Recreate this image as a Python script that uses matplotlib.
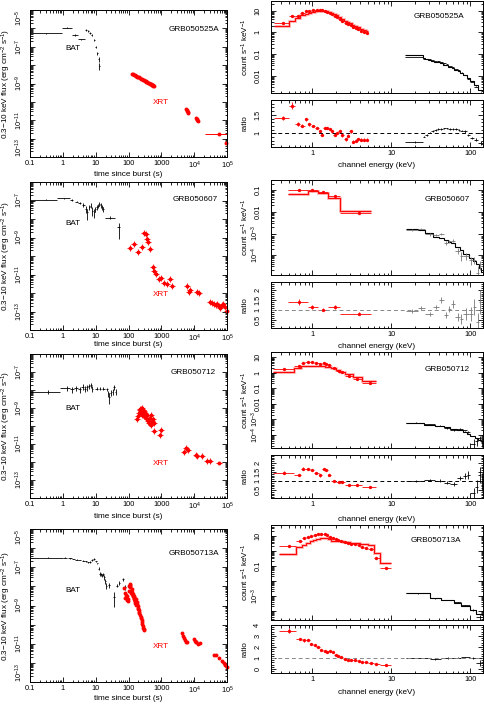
import numpy as np
import matplotlib
matplotlib.use('Agg')
import matplotlib.pyplot as plt
from matplotlib.ticker import FixedLocator, FuncFormatter, LogLocator, MultipleLocator, NullFormatter

plt.rcParams['font.family'] = ['Liberation Sans', 'DejaVu Sans']
plt.rcParams['mathtext.fontset'] = 'custom'
plt.rcParams['mathtext.rm'] = 'Liberation Sans'
plt.rcParams['mathtext.it'] = 'Liberation Sans:italic'
plt.rcParams['mathtext.bf'] = 'Liberation Sans:bold'
plt.rcParams['axes.linewidth'] = 0.7

# ---------------- DATA ----------------
grb_names = ['GRB050525A', 'GRB050607', 'GRB050712', 'GRB050713A']

# ---- light curves: BAT bins (t, lo, hi, flux, rel. err) ----
r1_bat_t = [0.3, 1.3, 2.4, 3.6, 5.1, 6.0, 6.7, 7.6, 9.0, 10.1, 11.3, 12.2, 13.0]
r1_bat_lo = [0.1, 0.93, 1.87, 2.8, 4.8, 5.7, 6.4, 7.2, 8.7, 9.8, 11.0, 11.9, 12.7]
r1_bat_hi = [0.93, 1.87, 3.0, 4.7, 5.4, 6.3, 7.0, 8.0, 9.3, 10.4, 11.6, 12.5, 13.3]
r1_bat_f = [5.4e-7, 1.1e-6, 4.3e-7, 2.5e-7, 8.1e-7, 7.2e-7, 5.8e-7, 4.3e-7, 2.3e-7, 1.0e-7, 4.3e-8, 2.1e-8, 9e-9]
r1_bat_rel = [0.05, 0.05, 0.1, 0.1, 0.1, 0.1, 0.1, 0.1, 0.15, 0.15, 0.2, 0.3, 0.4]
r1_xrt_t = [126, 135, 145, 155, 165, 175, 185, 198, 210, 225, 240, 255, 270, 290, 310, 330, 350, 375, 400, 425,
            450, 470, 490, 505, 520, 535, 550, 565, 580, 5800, 6000, 6200, 6400, 6600, 11500, 12000, 12500, 13000, 95000]
r1_xrt_f = [3.5e-9, 3.2e-9, 3.0e-9, 2.8e-9, 2.7e-9, 2.55e-9, 2.4e-9, 2.25e-9, 2.15e-9, 2.0e-9, 1.85e-9, 1.75e-9,
            1.6e-9, 1.5e-9, 1.4e-9, 1.3e-9, 1.22e-9, 1.15e-9, 1.08e-9, 1.02e-9, 0.97e-9, 0.93e-9, 0.9e-9, 0.86e-9,
            0.84e-9, 0.8e-9, 0.78e-9, 0.75e-9, 0.72e-9, 4.0e-11, 3.5e-11, 3.1e-11, 2.8e-11, 2.5e-11, 1.3e-11,
            1.15e-11, 1.05e-11, 9.5e-12, 5.7e-13]
r1_wide_t, r1_wide_lo, r1_wide_hi, r1_wide_f = [56000], [22000], [1e5], [1.9e-12]

r2_bat_t = [0.3, 1.1, 1.9, 2.65, 3.3, 4.2, 5.1, 5.6, 6.4, 7.1, 7.8, 9.0, 9.8, 10.8, 11.9, 13.0, 14.3, 15.8, 17.3, 28, 50]
r2_bat_lo = [0.1, 0.65, 1.7, 2.4, 3.0, 3.8, 4.8, 5.4, 6.1, 6.8, 7.5, 8.6, 9.4, 10.3, 11.4, 12.5, 13.7, 15.1, 16.6, 19.5, 44]
r2_bat_hi = [0.65, 1.7, 2.1, 2.9, 3.6, 4.6, 5.4, 5.9, 6.7, 7.4, 8.2, 9.4, 10.3, 11.3, 12.5, 13.6, 15.0, 16.6, 18.1, 39, 57]
r2_bat_f = [1.13e-7, 1.3e-7, 1.1e-7, 8.8e-8, 7.5e-8, 5.8e-8, 3.5e-8, 2.3e-8, 4.3e-8, 5.3e-8, 2.8e-8, 2.3e-8,
            3.5e-8, 4.3e-8, 5.3e-8, 6.6e-8, 5.8e-8, 4.3e-8, 3.5e-8, 1.2e-8, 3.5e-9]
r2_bat_rel = [0.05, 0.08, 0.1, 0.1, 0.15, 0.2, 0.4, 0.6, 0.3, 0.3, 0.5, 0.5, 0.3, 0.3, 0.25, 0.25, 0.3, 0.3, 0.35, 0.2, 0.75]
r2_xrt_t = [110, 150, 190, 260, 300, 330, 360, 400, 440, 555, 610, 670, 820, 960, 1220, 1470, 1800, 2050, 6000, 7000,
            7700, 12300, 13800, 29500, 35000, 41000, 46000, 50000, 56000, 61000, 68000, 78000, 88000, 99000]
r2_xrt_f = [2.8e-10, 4.3e-10, 1.7e-10, 3.1e-10, 1.7e-9, 1.5e-9, 8.1e-10, 5.8e-10, 2.3e-10, 2.5e-11, 1.5e-11, 1.1e-11,
            6e-12, 6.6e-12, 3.5e-12, 3.2e-12, 5.4e-12, 2.5e-12, 2.5e-12, 1.2e-12, 1.4e-12, 1.1e-12, 9.5e-13, 3.1e-13,
            2.8e-13, 2.6e-13, 2.3e-13, 2.6e-13, 2e-13, 1.5e-13, 2.3e-13, 2.5e-13, 1.7e-13, 1.1e-13]
r2_wide_t, r2_wide_lo, r2_wide_hi, r2_wide_f = [], [], [], []

r3_bat_t = [0.36, 1.3, 1.87, 2.5, 3.3, 4.0, 4.7, 5.6, 6.4, 7.1, 8.0, 10.8, 13.6, 17.3, 21.9, 24.4, 26, 28.8, 33, 36, 41]
r3_bat_lo = [0.1, 0.82, 1.6, 2.2, 2.9, 3.7, 4.4, 5.2, 6.0, 6.8, 7.6, 9.5, 12.5, 15.5, 20.5, 23.5, 25.2, 27.5, 31.5, 34.5, 39]
r3_bat_hi = [0.82, 1.6, 2.2, 2.9, 3.7, 4.4, 5.1, 6.0, 6.8, 7.5, 8.5, 12.0, 15.0, 19.0, 23.5, 25.2, 27, 30, 34.5, 38, 43]
r3_bat_f = [8.1e-9, 1.23e-8, 1.1e-8, 1.3e-8, 1.1e-8, 1.5e-8, 1.2e-8, 1.4e-8, 1.6e-8, 1.9e-8, 1.2e-8, 1.2e-8,
            1.2e-8, 1.2e-8, 1.1e-8, 6.6e-9, 4.3e-9, 7.2e-9, 8.1e-9, 1.4e-8, 8.1e-9]
r3_bat_rel = [0.3, 0.3, 0.35, 0.35, 0.35, 0.35, 0.35, 0.35, 0.3, 0.3, 0.35, 0.15, 0.15, 0.15, 0.15, 0.4, 0.6, 0.35, 0.35, 0.3, 0.35]
r3_xrt_t = [180, 200, 215, 225, 228, 235, 238, 245, 250, 257, 262, 270, 276, 283, 290, 296, 310, 330, 345, 360,
            377, 400, 415, 445, 470, 490, 515, 550, 580, 605, 880, 990, 5000, 5600, 6300, 11700, 12200, 17500, 25000, 30000]
r3_xrt_f = [2.5e-10, 3.5e-10, 5.3e-10, 7.4e-10, 9e-10, 5.3e-10, 6.5e-10, 8.8e-10, 9.5e-10, 4.3e-10, 6e-10, 7.4e-10,
            8e-10, 5.8e-10, 6.8e-10, 3.5e-10, 5.3e-10, 2.8e-10, 3.5e-10, 2.3e-10, 4.3e-10, 1.9e-10, 1.5e-10, 2.8e-10,
            4.3e-10, 1.2e-10, 1.9e-10, 2.3e-10, 1.4e-10, 5.3e-11, 3.1e-11, 5.8e-11, 3.8e-12, 5.8e-12, 4.9e-12,
            2.5e-12, 2.1e-12, 2.1e-12, 1.1e-12, 1.1e-12]
r3_wide_t, r3_wide_lo, r3_wide_hi, r3_wide_f = [56000], [45000], [70000], [9.2e-13]

r4_bat_t = [0.35, 1.17, 1.66, 2.1, 2.65, 3.3, 4.2, 5.1, 5.8, 6.7, 7.8, 9.0, 10.3, 11.3, 12.4, 13.6, 14.6, 15.8,
            16.9, 18.0, 19.8, 21.1, 26, 36, 44, 53, 67, 78]
r4_bat_lo = [0.1, 1.04, 1.45, 1.9, 2.4, 3.0, 3.8, 4.7, 5.5, 6.3, 7.3, 8.5, 9.7, 10.8, 11.9, 13.0, 14.1, 15.2,
             16.3, 17.4, 19.0, 20.4, 24, 33, 41, 50, 63, 74]
r4_bat_hi = [1.04, 1.3, 1.9, 2.3, 2.9, 3.6, 4.6, 5.5, 6.2, 7.1, 8.3, 9.5, 10.9, 11.8, 12.9, 14.1, 15.1, 16.3,
             17.4, 18.6, 20.6, 21.8, 28, 39, 47, 56, 71, 82]
r4_bat_f = [3.2e-7, 3.2e-7, 3.0e-7, 2.7e-7, 2.5e-7, 2.4e-7, 2.2e-7, 2.1e-7, 1.8e-7, 1.9e-7, 2.4e-7, 2.7e-7,
            2.0e-7, 1.6e-7, 8.5e-8, 4.6e-8, 4.2e-8, 3.8e-8, 4.2e-8, 3.0e-8, 1.8e-8, 1.1e-8, 1.2e-8, 2.9e-9,
            1.1e-8, 1.5e-8, 2.4e-8, 8.8e-9]
r4_bat_rel = [0.03, 0.05, 0.05, 0.05, 0.05, 0.05, 0.05, 0.05, 0.08, 0.08, 0.08, 0.08, 0.1, 0.1, 0.15, 0.2,
              0.2, 0.2, 0.2, 0.25, 0.3, 0.3, 0.3, 0.7, 0.2, 0.2, 0.2, 0.3]
r4_xrt_t = [74, 78, 81, 84, 87, 91, 95, 98, 101, 105, 108, 110, 112, 115, 118, 121, 124, 127, 130, 133,
            136, 139, 142, 145, 148, 152, 156, 160, 163, 167, 171, 175, 180, 184, 188, 193, 197, 202, 207, 212,
            220, 233, 240, 250, 256, 263, 270, 282, 289, 296, 4400, 4700, 5000, 5300, 5700, 5900,
            9800, 10500, 11000, 11700, 12900, 15500, 39000, 47000, 56000, 70000, 82000, 90000, 99000]
r4_xrt_f = [7.8e-9, 4.7e-9, 2.5e-9, 3.5e-9, 1.9e-9, 3.1e-9, 2.2e-9, 1.7e-9, 6e-9, 1.1e-8, 1.2e-8, 1.3e-8,
            1.0e-8, 8.8e-9, 6e-9, 4.7e-9, 5e-9, 7e-9, 4e-9, 3.1e-9, 3.3e-9, 3.9e-9, 2.8e-9, 2.1e-9, 3.1e-9,
            2.5e-9, 1.8e-9, 1.4e-9, 1.7e-9, 2.1e-9, 1.3e-9, 1.1e-9, 1.2e-9, 1.5e-9, 9e-10, 7.4e-10, 6.5e-10,
            5.5e-10, 4.8e-10, 4e-10, 3.2e-10, 2.6e-10, 2.1e-10, 1.7e-10, 1.4e-10, 1.1e-10, 9e-11, 6.8e-11,
            6e-11, 5.5e-11, 3.6e-11, 2.4e-11, 2e-11, 1.6e-11, 1.3e-11, 1.2e-11, 1.8e-11, 1.4e-11, 1.2e-11,
            1.3e-11, 1e-11, 1.1e-11, 2.7e-12, 2.5e-12, 1.9e-12, 1.3e-12, 1e-12, 8e-13, 5.8e-13]
r4_wide_t, r4_wide_lo, r4_wide_hi, r4_wide_f = [], [], [], []

# ---- spectra: XRT (red) and BAT (black) ----
s1_red_edges = [0.33, 0.50, 0.60, 0.70, 0.80, 0.875, 0.96, 1.08, 1.20, 1.27, 1.37, 1.48, 1.59, 1.72, 1.85, 1.98,
                2.13, 2.31, 2.52, 2.73, 2.94, 3.17, 3.41, 3.68, 3.99, 4.35, 4.72, 5.1]
s1_red_E = [0.42, 0.55, 0.66, 0.75, 0.84, 0.91, 1.02, 1.15, 1.24, 1.31, 1.43, 1.53, 1.66, 1.79, 1.92, 2.05,
            2.22, 2.40, 2.64, 2.83, 3.06, 3.28, 3.54, 3.82, 4.17, 4.54, 4.91]
s1_red_flux = [2.7, 5.6, 6.0, 7.5, 9.2, 10.0, 10.7, 11.0, 10.9, 10.6, 9.8, 9.0, 7.9, 6.8, 5.8, 5.0, 4.1, 3.3,
               2.6, 2.5, 2.2, 1.85, 1.55, 1.38, 1.22, 1.07, 0.9]
s1_red_model = [2.0, 3.2, 4.8, 6.2, 7.3, 8.1, 9.0, 9.6, 9.9, 10.0, 9.8, 9.3, 8.6, 7.8, 7.0, 6.1, 5.2, 4.3,
                3.5, 3.0, 2.6, 2.3, 2.0, 1.7, 1.5, 1.3, 1.12]
s1_red_ratio = [1.41, 1.75, 1.25, 1.20, 1.38, 1.25, 1.20, 1.14, 1.05, 0.95, 1.14, 1.14, 1.11, 1.05, 0.95, 1.00,
                1.05, 0.95, 0.84, 0.93, 1.05, 0.77, 0.80, 0.84, 0.82, 0.82, 0.82]
s1_red_rerr = [0.06, 0.1, 0.05, 0.04, 0.04, 0.04, 0.03, 0.03, 0.03, 0.03, 0.03, 0.03, 0.03, 0.03, 0.03, 0.03,
               0.03, 0.04, 0.04, 0.04, 0.04, 0.04, 0.04, 0.04, 0.04, 0.04, 0.04]
s1_blk_edges = [15, 25, 27, 29.5, 32, 35, 38, 41, 45, 49, 53, 58, 63, 69, 75, 82, 90, 100, 112, 125, 150]
s1_blk_E = [20, 26, 28.2, 30.7, 33.5, 36.5, 39.5, 43, 47, 51, 55.5, 60.5, 66, 72, 78.5, 86, 95, 106, 118, 137]
s1_blk_model = [0.095, 0.068, 0.062, 0.056, 0.050, 0.045, 0.041, 0.037, 0.033, 0.030, 0.026, 0.023, 0.019,
                0.016, 0.013, 0.0105, 0.0078, 0.0058, 0.0038, 0.0022]
s1_blk_ratio = [0.77, 0.91, 0.95, 1.02, 1.06, 1.09, 1.11, 1.12, 1.13, 1.13, 1.12, 1.12, 1.11, 1.09, 1.07, 1.05,
                0.95, 0.88, 0.82, 0.73]
s1_blk_flux = [0.073, 0.062, 0.059, 0.057, 0.053, 0.049, 0.046, 0.041, 0.037, 0.034, 0.029, 0.026, 0.021,
               0.0175, 0.014, 0.011, 0.0074, 0.0051, 0.0031, 0.0016]
s1_blk_rerr = [0.03, 0.02, 0.02, 0.02, 0.02, 0.02, 0.02, 0.02, 0.02, 0.02, 0.02, 0.02, 0.02, 0.02, 0.02, 0.03,
               0.03, 0.03, 0.04, 0.05]

s2_red_edges = [0.49, 0.88, 1.18, 1.58, 2.22, 5.58]
s2_red_E = [0.68, 1.0, 1.36, 1.92, 3.86]
s2_red_flux = [0.10, 0.107, 0.084, 0.053, 0.0088]
s2_red_model = [0.07, 0.093, 0.075, 0.044, 0.011]
s2_red_ratio = [1.42, 1.17, 1.03, 1.17, 0.83]
s2_red_rerr = [0.15, 0.1, 0.08, 0.1, 0.07]
s2_blk_edges = [15.5, 21.5, 27, 34, 40, 46, 52, 57, 65, 74, 82, 96, 108, 118, 129, 138, 150]
s2_blk_E = [18.4, 23.9, 30.6, 37, 43, 49.7, 54.6, 60, 70, 77, 89, 103, 113, 124, 133, 143]
s2_blk_model = [1.6e-3, 1.5e-3, 1.1e-3, 7.1e-4, 6.3e-4, 4.9e-4, 4.1e-4, 3.5e-4, 2.4e-4, 1.7e-4, 1.1e-4, 7e-5,
                5.3e-5, 3.7e-5, 2.6e-5, 1.7e-5]
s2_blk_ratio = [0.95, 1.12, 0.83, 1.17, 1.5, 0.75, 1.05, 1.33, 0.67, 0.55, 0.83, 0.83, 1.17, 0.42, 1.42, 1.75]
s2_blk_flux = [1.52e-3, 1.7e-3, 9.1e-4, 8.3e-4, 9.5e-4, 3.7e-4, 4.3e-4, 4.7e-4, 1.6e-4, 9.4e-5, 9.1e-5,
               5.8e-5, 6.2e-5, 1.55e-5, 3.7e-5, 3e-5]
s2_blk_rerr = [0.1, 0.1, 0.1, 0.12, 0.15, 0.15, 0.15, 0.2, 0.2, 0.25, 0.3, 0.35, 0.4, 0.45, 0.6, 1.0]

s3_red_edges = [0.32, 0.59, 0.72, 0.82, 0.94, 1.06, 1.20, 1.33, 1.45, 1.57, 1.75, 2.0, 2.25, 2.6, 3.3, 4.2, 6.5]
s3_red_E = [0.44, 0.67, 0.77, 0.88, 1.0, 1.13, 1.27, 1.40, 1.50, 1.65, 1.87, 2.15, 2.37, 2.93, 3.65, 5.35]
s3_red_flux = [1.6, 2.8, 4.2, 4.5, 4.5, 4.1, 3.5, 4.3, 3.8, 2.9, 1.85, 1.35, 1.07, 0.62, 0.41, 0.2]
s3_red_model = [1.1, 2.1, 2.5, 2.7, 2.8, 2.8, 2.7, 2.55, 2.4, 2.2, 1.85, 1.45, 1.15, 0.8, 0.55, 0.3]
s3_red_ratio = [1.47, 1.33, 1.69, 1.65, 1.6, 1.45, 1.31, 1.69, 1.6, 1.33, 1.0, 0.93, 0.93, 0.78, 0.75, 0.65]
s3_red_rerr = [0.08, 0.07, 0.07, 0.06, 0.06, 0.06, 0.06, 0.06, 0.06, 0.06, 0.05, 0.05, 0.05, 0.04, 0.04, 0.04]
s3_blk_edges = [15.5, 26, 36, 46, 56, 68, 81, 91, 100, 115, 127, 137, 145]
s3_blk_E = [20.5, 30.7, 41, 51, 62, 75, 86, 95, 110, 121, 133, 140]
s3_blk_model = [6e-4, 4.5e-4, 3.6e-4, 3.0e-4, 2.5e-4, 2.0e-4, 1.5e-4, 1.15e-4, 8e-5, 6e-5, 4.5e-5, 3.8e-5]
s3_blk_ratio = [1.0, 1.05, 1.02, 0.91, 0.82, 1.18, 1.27, 1.33, 0.33, 0.69, 1.33, 0.96]
s3_blk_flux = [6e-4, 4.7e-4, 3.7e-4, 2.7e-4, 2.05e-4, 2.35e-4, 1.9e-4, 1.5e-4, 2.6e-5, 4.1e-5, 6e-5, 3.6e-5]
s3_blk_rerr = [0.05, 0.06, 0.07, 0.08, 0.1, 0.12, 0.15, 0.2, 0.3, 0.35, 0.45, 0.5]

s4_red_edges = [0.38, 0.63, 0.735, 0.83, 0.925, 1.02, 1.12, 1.24, 1.36, 1.48, 1.6, 1.74, 1.9, 2.05, 2.2, 2.45,
                2.7, 2.97, 3.27, 3.65, 4.07, 4.5, 5.0, 6.0, 7.1, 10.0]
s4_red_E = [0.51, 0.69, 0.78, 0.88, 0.97, 1.07, 1.18, 1.30, 1.43, 1.53, 1.66, 1.83, 1.98, 2.11, 2.33, 2.56,
            2.83, 3.11, 3.43, 3.86, 4.28, 4.72, 5.57, 6.4, 8.6]
s4_red_flux = [2.15, 4.6, 6.6, 7.7, 9.5, 11, 12, 13, 12, 11, 8.6, 6.6, 5.7, 5.2, 4.6, 3.6, 3.1, 2.8, 2.6, 2.4,
               1.85, 1.6, 1.3, 0.34, 0.067]
s4_red_model = [0.64, 1.7, 2.5, 3.1, 4.1, 5.1, 6.1, 7.0, 7.4, 7.1, 5.7, 4.7, 4.4, 4.3, 4.2, 3.9, 3.6, 3.3, 3.1,
                3.0, 2.9, 2.7, 2.5, 0.75, 0.16]
s4_red_ratio = [3.48, 2.73, 2.6, 2.67, 2.27, 2.15, 1.97, 1.76, 1.6, 1.55, 1.67, 1.55, 1.3, 1.21, 1.06, 0.94,
                0.85, 0.85, 0.85, 0.7, 0.64, 0.6, 0.52, 0.45, 0.39]
s4_red_rerr = [0.25, 0.12, 0.1, 0.1, 0.08, 0.07, 0.06, 0.06, 0.06, 0.06, 0.06, 0.06, 0.05, 0.05, 0.05, 0.05,
               0.05, 0.05, 0.05, 0.04, 0.04, 0.04, 0.04, 0.04, 0.04]
s4_blk_edges = [15.5, 30.6, 42.8, 63, 77, 98, 119, 143]
s4_blk_E = [22, 36, 52, 70, 87, 108, 131]
s4_blk_model = [1.4e-3, 7.5e-4, 5.3e-4, 3.5e-4, 2.2e-4, 1.1e-4, 6.5e-5]
s4_blk_ratio = [1.0, 0.91, 1.0, 1.03, 1.06, 1.0, 0.55]
s4_blk_flux = [1.4e-3, 6.8e-4, 5.3e-4, 3.6e-4, 2.3e-4, 1.1e-4, 3.6e-5]
s4_blk_rerr = [0.04, 0.05, 0.05, 0.06, 0.07, 0.1, 0.25]

lc_xticks = [0.1, 1, 10, 100, 1000, 1e4, 1e5]
lc_xticklabels = ['0.1', '1', '10', '100', '1000', '10$^4$', '10$^5$']
sp_xticks = [1, 10, 100]
sp_xticklabels = ['1', '10', '100']

# ---------------- LAYOUT / STYLE ----------------
W, H = 485, 704
fig = plt.figure(figsize=(W / 100, H / 100), dpi=100)
FS_T = 5.3
FS_L = 5.9


def add_ax(x0, y0, x1, y1):
    return fig.add_axes([x0 / W, 1 - y1 / H, (x1 - x0) / W, (y1 - y0) / H])


def common(ax, ypad):
    ax.tick_params(which='both', direction='in', top=True, right=True, labelsize=FS_T, width=0.6, colors='k')
    ax.tick_params(which='major', length=3.6)
    ax.tick_params(which='minor', length=1.8)
    ax.tick_params(axis='y', labelrotation=90, pad=ypad)
    ax.tick_params(axis='x', pad=2)


def vert_labels(ax, ylim, logscale):
    ticks = ax.yaxis.get_major_ticks()
    locs = ax.yaxis.get_majorticklocs()
    for tk, loc in zip(ticks, locs):
        tk.label1.set_va('center')
        if logscale:
            if abs(np.log10(loc) - np.log10(ylim[1])) < 0.05:
                tk.label1.set_va('top')
            elif abs(np.log10(loc) - np.log10(ylim[0])) < 0.05:
                tk.label1.set_va('bottom')


lc_boxes = [(30, 10, 227, 157), (30, 182, 227, 330), (30, 354, 227, 498), (30, 529, 227, 682)]
lc_ylims = [(1e-13, 1e-5), (1e-14, 1e-6), (1e-14, 1e-6), (1e-13, 1e-5)]
lc_labexp = [[-13, -11, -9, -7, -5], [-13, -11, -9, -7], [-13, -11, -9, -7], [-13, -11, -9, -7, -5]]
lc_xlab_y = [-0.116, -0.10, -0.13, -0.105]
lc_bat_pos = [(0.22, 0.74), (0.22, 0.72), (0.22, 0.62), (0.22, 0.595)]
lc_xrt_pos = [(0.665, 0.37), (0.665, 0.24), (0.665, 0.24), (0.665, 0.23)]
lc_name_pos = [(0.83, 0.87), (0.84, 0.885), (0.83, 0.87), (0.83, 0.84)]
lc_cross = [False, True, True, False]

lc_data = [
    (r1_bat_t, r1_bat_lo, r1_bat_hi, r1_bat_f, r1_bat_rel, r1_xrt_t, r1_xrt_f, r1_wide_t, r1_wide_lo, r1_wide_hi, r1_wide_f),
    (r2_bat_t, r2_bat_lo, r2_bat_hi, r2_bat_f, r2_bat_rel, r2_xrt_t, r2_xrt_f, r2_wide_t, r2_wide_lo, r2_wide_hi, r2_wide_f),
    (r3_bat_t, r3_bat_lo, r3_bat_hi, r3_bat_f, r3_bat_rel, r3_xrt_t, r3_xrt_f, r3_wide_t, r3_wide_lo, r3_wide_hi, r3_wide_f),
    (r4_bat_t, r4_bat_lo, r4_bat_hi, r4_bat_f, r4_bat_rel, r4_xrt_t, r4_xrt_f, r4_wide_t, r4_wide_lo, r4_wide_hi, r4_wide_f),
]

for i in range(4):
    bt, blo, bhi, bf, brel, xt, xf, wt, wlo, whi, wf = [np.array(a, dtype=float) for a in lc_data[i]]
    ax = add_ax(*lc_boxes[i])
    ax.set_xscale('log')
    ax.set_yscale('log')
    ax.set_xlim(0.1, 1e5)
    ax.set_ylim(*lc_ylims[i])
    ax.hlines(bf, blo, bhi, color='k', lw=0.6)
    ax.vlines(bt, bf * (1 - brel), bf * (1 + brel), color='k', lw=0.6)
    ax.plot(xt, xf, 'o', color='red', ms=2.8, mew=0, clip_on=False)
    if lc_cross[i]:
        ax.plot(xt, xf, '+', color='red', ms=4.5, mew=0.6)
    if len(wt):
        ax.hlines(wf, wlo, whi, color='red', lw=0.7)
        ax.plot(wt, wf, 'o', color='red', ms=2.8, mew=0)
    common(ax, 3.8)
    ax.set_xticks(lc_xticks)
    ax.set_xticklabels(lc_xticklabels)
    ax.xaxis.set_minor_locator(LogLocator(base=10, subs=np.arange(2, 10), numticks=100))
    ax.xaxis.set_minor_formatter(NullFormatter())
    decs = np.arange(-15, -3)
    ax.yaxis.set_major_locator(FixedLocator(10.0 ** decs))
    labexp = lc_labexp[i]
    ax.yaxis.set_major_formatter(FuncFormatter(
        lambda v, p, le=labexp: (r'10$^{%d}$' % int(round(np.log10(v)))) if int(round(np.log10(v))) in le else ''))
    ax.yaxis.set_minor_locator(LogLocator(base=10, subs=np.arange(2, 10), numticks=100))
    ax.yaxis.set_minor_formatter(NullFormatter())
    vert_labels(ax, lc_ylims[i], True)
    ax.set_xlabel('time since burst (s)', fontsize=FS_L)
    ax.xaxis.set_label_coords(0.5, lc_xlab_y[i])
    ax.xaxis.label.set_va('center')
    ax.set_ylabel('0.3\u221210 keV flux (erg cm$^{-2}$ s$^{-1}$)', fontsize=FS_L)
    ax.yaxis.set_label_coords(-0.118, 0.5)
    ax.yaxis.label.set_va('center')
    ax.text(*lc_bat_pos[i], 'BAT', transform=ax.transAxes, fontsize=FS_L, ha='center', va='center', color='k')
    ax.text(*lc_xrt_pos[i], 'XRT', transform=ax.transAxes, fontsize=FS_L, ha='center', va='center', color='red')
    ax.text(*lc_name_pos[i], grb_names[i], transform=ax.transAxes, fontsize=FS_L, ha='center', va='center')

# ---------------- spectra ----------------
sp_boxes = [(271, 1, 483, 93), (271, 180, 483, 275), (271, 352, 483, 448), (271, 525, 483, 620)]
rt_boxes = [(271, 100, 483, 147), (271, 282, 483, 328), (271, 455, 483, 498), (271, 625, 483, 673)]
sp_ylims = [(1.6e-3, 28), (1.2e-5, 0.3), (1.4e-5, 21), (2.4e-5, 51)]
sp_labexp = [[-2, -1, 0, 1], [-4, -3, -2, -1], [-4, -3, -2, -1, 0, 1], [-3, -1, 1]]
rt_ylims = [(0.63, 1.9), (0.12, 2.42), (0.05, 2.45), (-0.36, 4.0)]
rt_major = [0.5, 0.5, 0.5, 1.0]
rt_minor = [0.1, 0.1, 0.1, 0.2]
rt_xlab_y = [-0.40, -0.41, -0.51, -0.40]
sp_name_pos = [(0.79, 0.83), (0.83, 0.79), (0.83, 0.82), (0.78, 0.84)]
dash_colors = ['k', '#888888', 'k', '#888888']
blk_colors = ['k', '#777777', 'k', 'k']

sp_red = [
    (s1_red_edges, s1_red_E, s1_red_flux, s1_red_model, s1_red_ratio, s1_red_rerr),
    (s2_red_edges, s2_red_E, s2_red_flux, s2_red_model, s2_red_ratio, s2_red_rerr),
    (s3_red_edges, s3_red_E, s3_red_flux, s3_red_model, s3_red_ratio, s3_red_rerr),
    (s4_red_edges, s4_red_E, s4_red_flux, s4_red_model, s4_red_ratio, s4_red_rerr),
]
sp_blk = [
    (s1_blk_edges, s1_blk_E, s1_blk_flux, s1_blk_model, s1_blk_ratio, s1_blk_rerr),
    (s2_blk_edges, s2_blk_E, s2_blk_flux, s2_blk_model, s2_blk_ratio, s2_blk_rerr),
    (s3_blk_edges, s3_blk_E, s3_blk_flux, s3_blk_model, s3_blk_ratio, s3_blk_rerr),
    (s4_blk_edges, s4_blk_E, s4_blk_flux, s4_blk_model, s4_blk_ratio, s4_blk_rerr),
]


def sp_fmt(v, p, le):
    k = int(round(np.log10(v)))
    if k not in le:
        return ''
    if k >= -2:
        return '%g' % (10.0 ** k)
    return r'10$^{%d}$' % k


for i in range(4):
    ax = add_ax(*sp_boxes[i])
    ar = add_ax(*rt_boxes[i])
    for a in (ax, ar):
        a.set_xscale('log')
        a.set_xlim(0.3, 145)
    ax.set_yscale('log')
    ax.set_ylim(*sp_ylims[i])
    ar.set_ylim(*rt_ylims[i])

    for j, (dset, col) in enumerate(((sp_red[i], 'red'), (sp_blk[i], blk_colors[i]))):
        edges, E, flux, model, ratio, rerr = [np.array(a, dtype=float) for a in dset]
        xerr = [E - edges[:-1], edges[1:] - E]
        if j == 0:
            ax.stairs(model, edges, baseline=None, color='#ff9a9a', lw=1.8)
            ax.stairs(model, edges, baseline=None, color='red', lw=0.7)
            ax.errorbar(E, flux, xerr=xerr, yerr=flux * rerr / ratio, fmt='o', ms=2.4, mew=0,
                        color='red', elinewidth=0.6, capsize=0)
            ar.errorbar(E, ratio, xerr=xerr, yerr=rerr, fmt='o', ms=2.4, mew=0,
                        color='red', elinewidth=0.6, capsize=0)
        else:
            ax.errorbar(E, flux, xerr=xerr, yerr=flux * rerr / ratio, fmt='none',
                        ecolor=col, elinewidth=0.6, capsize=0)
            ax.stairs(model, edges, baseline=None, color='k', lw=0.8)
            ar.errorbar(E, ratio, xerr=xerr, yerr=rerr, fmt='none',
                        ecolor=col, elinewidth=0.6, capsize=0)
    ar.axhline(1.0, color=dash_colors[i], lw=0.7, ls=(0, (4, 3)))

    for a in (ax, ar):
        common(a, 7.0)
        a.xaxis.set_major_locator(FixedLocator(sp_xticks))
        a.xaxis.set_minor_locator(LogLocator(base=10, subs=np.arange(2, 10), numticks=100))
        a.xaxis.set_minor_formatter(NullFormatter())
    ax.xaxis.set_major_formatter(NullFormatter())
    ar.set_xticks(sp_xticks)
    ar.set_xticklabels(sp_xticklabels)

    ax.yaxis.set_major_locator(FixedLocator(10.0 ** np.arange(-6, 3)))
    le = sp_labexp[i]
    ax.yaxis.set_major_formatter(FuncFormatter(lambda v, p, le=le: sp_fmt(v, p, le)))
    ax.yaxis.set_minor_locator(LogLocator(base=10, subs=np.arange(2, 10), numticks=100))
    ax.yaxis.set_minor_formatter(NullFormatter())
    vert_labels(ax, sp_ylims[i], True)

    ar.yaxis.set_major_locator(MultipleLocator(rt_major[i]))
    ar.yaxis.set_minor_locator(MultipleLocator(rt_minor[i]))
    ar.yaxis.set_major_formatter(FuncFormatter(lambda v, p: '%g' % round(v, 2)))
    vert_labels(ar, rt_ylims[i], False)

    ax.set_ylabel('count s$^{-1}$ keV$^{-1}$', fontsize=FS_L)
    ax.yaxis.set_label_coords(-0.122, 0.5)
    ax.yaxis.label.set_va('center')
    ar.set_ylabel('ratio', fontsize=FS_L)
    ar.yaxis.set_label_coords(-0.122, 0.5)
    ar.yaxis.label.set_va('center')
    ar.set_xlabel('channel energy (keV)', fontsize=FS_L)
    ar.xaxis.set_label_coords(0.5, rt_xlab_y[i])
    ar.xaxis.label.set_va('center')
    ax.text(*sp_name_pos[i], grb_names[i], transform=ax.transAxes, fontsize=FS_L, ha='center', va='center')

fig.savefig('out.png', dpi=100)
